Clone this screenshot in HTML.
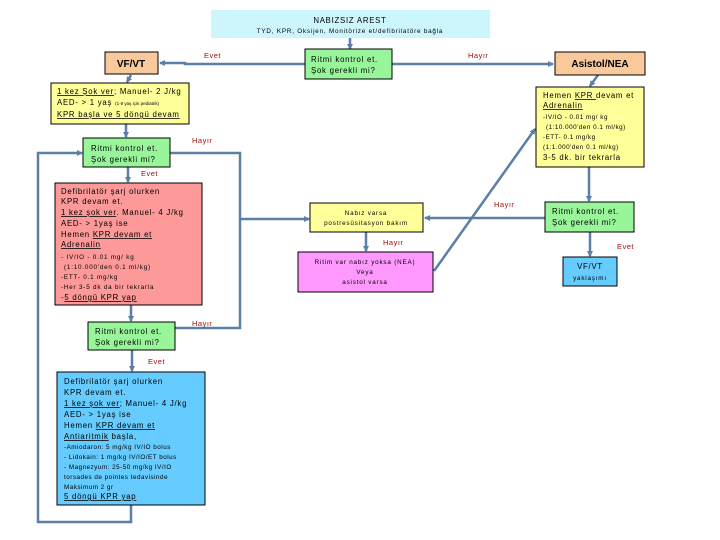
<!DOCTYPE html>
<html><head><meta charset="utf-8"><style>
html,body{margin:0;padding:0;background:#fff;}
svg{display:block;font-family:"Liberation Sans",sans-serif;}
.t{font-size:7.8px;fill:#000;letter-spacing:0.75px;}
.s{font-size:6.3px;fill:#000;letter-spacing:0.8px;}
.r{font-size:7.5px;fill:#a01010;letter-spacing:0.5px;}
.b{stroke:#000;stroke-width:1;}
.l{stroke:#5b7fa6;stroke-width:2.5;fill:none;}
</style></head><body>
<svg width="720" height="540" viewBox="0 0 720 540">
<defs><marker id="a" markerWidth="6" markerHeight="6" refX="5" refY="3" orient="auto" markerUnits="userSpaceOnUse"><path d="M0,0L6,3L0,6z" fill="#5b7fa6"/></marker></defs>
<path class="l" d="M350,38V49" marker-end="url(#a)"/>
<path class="l" d="M305,64H185V63H160" marker-end="url(#a)"/>
<path class="l" d="M392,64H553" marker-end="url(#a)"/>
<path class="l" d="M131,75L127,82" marker-end="url(#a)"/>
<path class="l" d="M126,124V137" marker-end="url(#a)"/>
<path class="l" d="M128,167V182" marker-end="url(#a)"/>
<path class="l" d="M170,153H240V328H175"/>
<path class="l" d="M240,219H309" marker-end="url(#a)"/>
<path class="l" d="M131,305V321" marker-end="url(#a)"/>
<path class="l" d="M132,350V371" marker-end="url(#a)"/>
<path class="l" d="M131,505V522H38V153H82" marker-end="url(#a)"/>
<path class="l" d="M598,75L590,86" marker-end="url(#a)"/>
<path class="l" d="M589,167V201" marker-end="url(#a)"/>
<path class="l" d="M545,218H425" marker-end="url(#a)"/>
<path class="l" d="M366,232V251" marker-end="url(#a)"/>
<path class="l" d="M434,271L535,129" marker-end="url(#a)"/>
<path class="l" d="M590,232V256" marker-end="url(#a)"/>
<rect x="211" y="10" width="279" height="28" fill="#ccf5fc"/>
<text x="350" y="23" class="t" text-anchor="middle" font-size="8.5">NABIZSIZ AREST</text>
<text x="350" y="33" class="s" text-anchor="middle">TYD, KPR, Oksijen, Monitörize et/defibrilatöre bağla</text>
<rect x="305" y="49" width="87" height="30" fill="#99f59a" class="b"/>
<text x="311" y="62" class="t">Ritmi kontrol et.</text><text x="311" y="73" class="t">Şok gerekli mi?</text>
<rect x="105" y="52" width="53" height="22" fill="#f9c89b" class="b"/>
<text x="131" y="67" text-anchor="middle" font-size="10" font-weight="bold">VF/VT</text>
<rect x="555" y="52" width="90" height="23" fill="#f9c89b" class="b"/>
<text x="600" y="67" text-anchor="middle" font-size="10" font-weight="bold">Asistol/NEA</text>
<rect x="51" y="83" width="138" height="41" fill="#ffff99" class="b"/>
<text x="57" y="94" class="t"><tspan text-decoration="underline">1 kez Şok ver</tspan>; Manuel- 2 J/kg</text>
<text x="57" y="105" class="t">AED- &gt; 1 yaş <tspan font-size="4.5" letter-spacing="0">(1-8 yaş için pediatrik)</tspan></text>
<text x="57" y="117" class="t" text-decoration="underline">KPR başla ve 5 döngü devam</text>
<rect x="83" y="138" width="87" height="29" fill="#99f59a" class="b"/>
<text x="91" y="151" class="t">Ritmi kontrol et.</text><text x="91" y="162" class="t">Şok gerekli mi?</text>
<text x="192" y="143" class="r">Hayır</text>
<text x="141" y="176" class="r">Evet</text>
<text x="204" y="58" class="r">Evet</text>
<text x="468" y="58" class="r">Hayır</text>
<rect x="55" y="183" width="147" height="122" fill="#fd9999" class="b"/>
<g class="t"><text x="61" y="194">Defibrilatör şarj olurken</text><text x="61" y="204">KPR devam et.</text>
<text x="61" y="215"><tspan text-decoration="underline">1 kez şok ver</tspan>. Manuel- 4 J/kg</text>
<text x="61" y="226">AED- &gt; 1yaş ise</text><text x="61" y="237">Hemen <tspan text-decoration="underline">KPR devam et</tspan></text>
<text x="61" y="247" text-decoration="underline">Adrenalin</text></g>
<g class="s"><text x="61" y="259">- IV/IO - 0.01 mg/ kg</text><text x="64" y="269">(1:10.000'den 0.1 ml/kg)</text>
<text x="61" y="279">-ETT- 0.1 mg/kg</text><text x="61" y="289">-Her 3-5 dk da bir tekrarla</text></g>
<text x="61" y="300" class="t">-<tspan text-decoration="underline">5 döngü KPR yap</tspan></text>
<rect x="88" y="322" width="87" height="28" fill="#99f59a" class="b"/>
<text x="95" y="334" class="t">Ritmi kontrol et.</text><text x="95" y="345" class="t">Şok gerekli mi?</text>
<text x="192" y="326" class="r">Hayır</text>
<text x="148" y="364" class="r">Evet</text>
<rect x="57" y="372" width="148" height="133" fill="#66ccff" class="b"/>
<g class="t"><text x="64" y="384">Defibrilatör şarj olurken</text><text x="64" y="395">KPR devam et.</text>
<text x="64" y="406"><tspan text-decoration="underline">1 kez şok ver</tspan>; Manuel- 4 J/kg</text>
<text x="64" y="417">AED- &gt; 1yaş ise</text><text x="64" y="428">Hemen <tspan text-decoration="underline">KPR devam et</tspan></text>
<text x="64" y="439"><tspan text-decoration="underline">Antiaritmik</tspan> başla,</text></g>
<g class="s" style="letter-spacing:0.5px"><text x="64" y="449">-Amiodaron:  5 mg/kg IV/IO bolus</text><text x="64" y="459">- Lidokain: 1 mg/kg IV/IO/ET bolus</text>
<text x="64" y="469"> - Magnezyum: 25-50 mg/kg IV/IO</text><text x="64" y="479">torsades de pointes tedavisinde</text>
<text x="64" y="489">Maksimum 2 gr</text></g>
<text x="64" y="499" class="t" text-decoration="underline">5 döngü KPR yap</text>
<rect x="536" y="87" width="108" height="80" fill="#ffff99" class="b"/>
<text x="543" y="98" class="t">Hemen <tspan text-decoration="underline">KPR </tspan>devam et</text>
<text x="543" y="108" class="t" text-decoration="underline">Adrenalin</text>
<g class="s" style="letter-spacing:0.5px"><text x="543" y="119">-IV/IO - 0.01 mg/ kg</text><text x="546" y="129">(1:10.000'den 0.1 ml/kg)</text>
<text x="543" y="139">-ETT- 0.1 mg/kg</text><text x="543" y="149">(1:1.000'den 0.1 ml/kg)</text></g>
<text x="543" y="160" class="t">3-5 dk. bir tekrarla</text>
<rect x="310" y="203" width="113" height="29" fill="#ffff99" class="b"/>
<text x="366" y="215" class="s" text-anchor="middle">Nabız varsa</text><text x="366" y="225" class="s" text-anchor="middle">postresüsitasyon bakım</text>
<text x="383" y="245" class="r">Hayır</text>
<text x="494" y="207" class="r">Hayır</text>
<rect x="298" y="252" width="135" height="40" fill="#ff99ff" class="b"/>
<text x="365" y="264" class="s" text-anchor="middle">Ritim var nabız yoksa (NEA)</text>
<text x="365" y="274" class="s" text-anchor="middle">Veya</text><text x="365" y="284" class="s" text-anchor="middle">asistol varsa</text>
<rect x="545" y="202" width="89" height="30" fill="#99f59a" class="b"/>
<text x="552" y="214" class="t">Ritmi kontrol et.</text><text x="552" y="225" class="t">Şok gerekli mi?</text>
<text x="617" y="249" class="r">Evet</text>
<rect x="563" y="257" width="54" height="29" fill="#66ccff" class="b"/>
<text x="590" y="269" class="t" text-anchor="middle">VF/VT</text><text x="590" y="280" class="s" text-anchor="middle">yaklaşımı</text>
</svg>
</body></html>
